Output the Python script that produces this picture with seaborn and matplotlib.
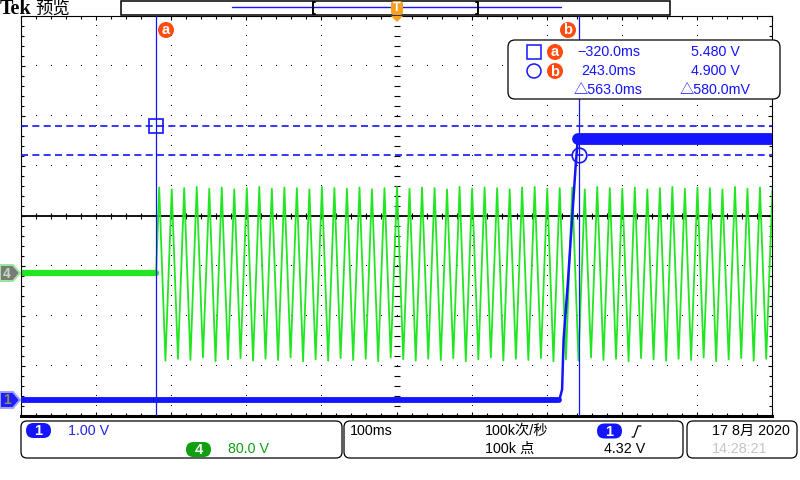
import matplotlib
matplotlib.use("Agg")
import numpy as np
import pandas as pd
import matplotlib.pyplot as plt
import seaborn as sns
from matplotlib.patches import FancyBboxPatch, Polygon, Rectangle, Circle
from matplotlib.lines import Line2D
from matplotlib.transforms import IdentityTransform

# ---------------- data ----------------
ch1_volts_per_div = 1.00
ch4_volts_per_div = 80.0
ch1_offset_div = -3.67
ch4_offset_div = -1.13

# channel 1 (blue): low, fast rise, high
ch1_t = [-500.0, 217.0, 220.5, 222.5, 228.0, 233.3, 238.7, 241.3, 500.0]
ch1_v = [0.0, 0.0, 0.2, 1.2, 2.3, 3.5, 4.7, 5.2, 5.2]
ch1_low_t = [-500.0, 217.0]
ch1_low_v = [0.0, 0.0]
ch1_high_t = [241.3, 500.0]
ch1_high_v = [5.22, 5.22]

# channel 4 (green): flat before cursor a, then 60 Hz mains wave
ch4_pre_t = [-500.0, -320.0]
ch4_pre_v = [0.0, 0.0]
ch4_start_t = [-320.0]
ch4_start_v = [0.0]
ch4_peak_t = [-316.0, -299.3, -282.7, -266.0, -249.3, -232.7, -216.0, -199.3, -182.7, -166.0,
              -149.3, -132.7, -116.0, -99.3, -82.7, -66.0, -49.3, -32.7, -16.0, 0.7,
              17.3, 34.0, 50.7, 67.3, 84.0, 100.7, 117.3, 134.0, 150.7, 167.3,
              184.0, 200.7, 217.3, 234.0, 250.7, 267.3, 284.0, 300.7, 317.3, 334.0,
              350.7, 367.3, 384.0, 400.7, 417.3, 434.0, 450.7, 467.3, 484.0, 500.7]
ch4_peak_v = [136, 133, 135, 137, 134, 136, 133, 135, 137, 134,
              136, 135, 133, 137, 135, 134, 136, 133, 135, 137,
              134, 136, 135, 133, 137, 134, 136, 135, 133, 136,
              137, 134, 135, 136, 133, 137, 135, 134, 136, 133,
              135, 137, 134, 136, 135, 133, 137, 134, 136, 135]
ch4_trough_t = [-307.7, -291.0, -274.4, -257.7, -241.0, -224.4, -207.7, -191.0, -174.4, -157.7,
                -141.0, -124.4, -107.7, -91.0, -74.4, -57.7, -41.0, -24.4, -7.7, 9.0,
                25.6, 42.3, 59.0, 75.6, 92.3, 109.0, 125.6, 142.3, 159.0, 175.6,
                192.3, 209.0, 225.6, 242.3, 259.0, 275.6, 292.3, 309.0, 325.6, 342.3,
                359.0, 375.6, 392.3, 409.0, 425.6, 442.3, 459.0, 475.6, 492.3]
ch4_trough_v = [-141, -138, -140, -136, -142, -139, -137, -141, -138, -140,
                -136, -142, -139, -141, -137, -140, -138, -142, -136, -139,
                -141, -138, -140, -137, -142, -139, -136, -141, -138, -140,
                -137, -142, -139, -141, -136, -140, -138, -142, -137, -139,
                -141, -138, -140, -136, -142, -139, -137, -141, -138]

cursor_t = [-320.0, 243.0]      # ms
cursor_v = [5.480, 4.900]       # V on ch1

readout_time = ["\u2212320.0ms", "243.0ms", "\u25b3563.0ms"]
readout_volt = ["5.480 V", "4.900 V", "\u25b3580.0mV"]

# ---------------- style ----------------
sns.set_theme(style="white")
plt.rcParams['font.family'] = ['Liberation Sans', 'Noto Sans CJK SC', 'DejaVu Sans']
CJK = ['Liberation Sans', 'Noto Sans CJK SC', 'DejaVu Sans']

BLUE = '#1414ff'
GREEN = '#22e622'
DGREEN = '#12a012'
ORANGE = '#ff4b10'
TORANGE = '#f5a020'

W, H = 800, 480
PX = IdentityTransform()
def P(x, y):
    return (x, H - y)

fig = plt.figure(figsize=(8, 4.8), dpi=100)
fig.patch.set_facecolor('white')
ax = fig.add_axes([21 / W, 64 / H, 751 / W, 400 / H])
ax.set_xlim(-500, 500)
ax.set_ylim(-4, 4)
ax.set_facecolor('white')

# frame
for s in ['left', 'top', 'right']:
    ax.spines[s].set_color('black')
    ax.spines[s].set_linewidth(0.8)
ax.spines['bottom'].set_color('black')
ax.spines['bottom'].set_linewidth(2.2)
ax.set_xticks(np.arange(-500, 501, 100))
ax.set_yticks(np.arange(-4, 4.01, 1))
ax.set_xticks(np.arange(-500, 501, 20), minor=True)
ax.set_yticks(np.arange(-4, 4.01, 0.2), minor=True)
ax.tick_params(which='both', direction='in', top=True, right=True, bottom=True, left=True,
               labelbottom=False, labelleft=False, color='black', width=0.8)
ax.tick_params(which='major', length=3)
ax.tick_params(which='minor', length=2)

# graticule dots
gx, gy = [], []
for xm in range(-400, 401, 100):
    if xm == 0:
        continue
    for yy in np.arange(-4, 4.01, 0.2):
        gx.append(xm); gy.append(yy)
for ym in [-3, -2, -1, 1, 2, 3]:
    for xx in np.arange(-500, 501, 20):
        gx.append(xx); gy.append(ym)
ax.plot(gx, gy, ',', color='black', zorder=1)
# centre cross
ax.axhline(0, color='black', lw=1.3, zorder=1)
cy = np.arange(-4, 4.01, 0.2)
ax.plot(np.zeros_like(cy), cy, '_', color='black', ms=4.5, mew=0.8, zorder=1)
cx = np.arange(-500, 501, 20)
ax.plot(cx, np.zeros_like(cx), '|', color='black', ms=4.5, mew=0.8, zorder=1)

# ---------------- traces ----------------
c4_t = list(ch4_start_t)
c4_v = list(ch4_start_v)
for i in range(len(ch4_peak_t)):
    c4_t.append(ch4_peak_t[i]); c4_v.append(ch4_peak_v[i])
    if i < len(ch4_trough_t):
        c4_t.append(ch4_trough_t[i]); c4_v.append(ch4_trough_v[i])
df4 = pd.DataFrame({'t': c4_t, 'y': np.array(c4_v) / ch4_volts_per_div + ch4_offset_div})
df4pre = pd.DataFrame({'t': ch4_pre_t, 'y': np.array(ch4_pre_v) / ch4_volts_per_div + ch4_offset_div})
sns.lineplot(data=df4pre, x='t', y='y', ax=ax, color=GREEN, lw=4.5, sort=False, estimator=None, zorder=2)
sns.lineplot(data=df4, x='t', y='y', ax=ax, color=GREEN, lw=1.3, sort=False, estimator=None, zorder=2)

df1 = pd.DataFrame({'t': ch1_t, 'y': np.array(ch1_v) / ch1_volts_per_div + ch1_offset_div})
df1lo = pd.DataFrame({'t': ch1_low_t, 'y': np.array(ch1_low_v) / ch1_volts_per_div + ch1_offset_div})
df1hi = pd.DataFrame({'t': ch1_high_t, 'y': np.array(ch1_high_v) / ch1_volts_per_div + ch1_offset_div})
sns.lineplot(data=df1, x='t', y='y', ax=ax, color=BLUE, lw=1.8, sort=False, estimator=None, zorder=3)
sns.lineplot(data=df1lo, x='t', y='y', ax=ax, color=BLUE, lw=4.2, sort=False, estimator=None, zorder=3)
sns.lineplot(data=df1hi, x='t', y='y', ax=ax, color=BLUE, lw=8.5, sort=False, estimator=None, zorder=3)
ax.set_xlabel('')
ax.set_ylabel('')

# cursors
for t in cursor_t:
    ax.axvline(t, color=BLUE, lw=0.9, zorder=4)
for v in cursor_v:
    ax.axhline(v / ch1_volts_per_div + ch1_offset_div, color=BLUE, lw=1.2,
               ls=(0, (4.2, 2.6)), zorder=4)
ax.plot([cursor_t[0]], [cursor_v[0] / ch1_volts_per_div + ch1_offset_div], 's', ms=10,
        mfc='none', mec=BLUE, mew=1.2, zorder=5)
ax.plot([cursor_t[1]], [cursor_v[1] / ch1_volts_per_div + ch1_offset_div], 'o', ms=10.5,
        mfc='none', mec=BLUE, mew=1.2, zorder=5)

# ---------------- decorations in pixel space ----------------
def add(p, z=10):
    p.set_transform(PX)
    p.set_zorder(z)
    fig.add_artist(p)

def txt(x, y, s, **kw):
    kw.setdefault('fontsize', 10)
    kw.setdefault('va', 'center')
    kw.setdefault('ha', 'left')
    kw.setdefault('family', CJK)
    fig.text(x, H - y, s, transform=PX, zorder=12, **kw)

def badge(x, y, letter):
    add(Circle(P(x, y), 8, fc=ORANGE, ec='none'), 11)
    txt(x, y + 0.5, letter, color='white', fontweight='bold', ha='center', fontsize=10.5)

# header
txt(0, 9, 'Tek', family=['Liberation Serif'], fontweight='bold', fontsize=14.5, color='black')
txt(35, 9, '预览', family=['Noto Sans CJK SC'], fontsize=12.5, color='black')
add(Rectangle(P(121, 15), 549, 14.5, fc='white', ec='black', lw=1.1), 10)
add(Line2D([232, 561], [H - 7, H - 7], color=BLUE, lw=1.0), 11)
add(Line2D([315, 313, 313, 315], [H - 2, H - 2, H - 14, H - 14], color='black', lw=1.4), 11)
add(Line2D([476, 478, 478, 476], [H - 2, H - 2, H - 14, H - 14], color='black', lw=1.4), 11)
# trigger marker
add(FancyBboxPatch(P(391, 15), 12, 14, boxstyle='round,pad=0,rounding_size=3',
                   fc=TORANGE, ec='none'), 12)
txt(397, 8, 'T', color='white', fontweight='bold', fontsize=9, ha='center')
add(Polygon([P(391, 16), P(403, 16), P(397, 22)], closed=True, fc=TORANGE, ec='none'), 12)

# cursor badges
badge(166, 30, 'a')
badge(568, 30, 'b')

# readout box
add(FancyBboxPatch(P(508, 99), 272, 59, boxstyle='round,pad=0,rounding_size=7',
                   fc='white', ec='black', lw=0.9), 10)
add(Rectangle(P(527, 59), 14, 14, fc='none', ec=BLUE, lw=1.1), 11)
add(Circle(P(534, 71), 7, fc='none', ec=BLUE, lw=1.1), 11)
badge(555, 52, 'a')
badge(555, 71, 'b')
rows = [52, 71, 90]
for yy, s in zip(rows, readout_time):
    txt(608.5, yy, s, color=BLUE, ha='center', fontsize=10.3)
for yy, s in zip(rows, readout_volt):
    txt(715, yy, s, color=BLUE, ha='center', fontsize=10.3)

# left channel markers
add(Polygon([P(0, 265), P(13, 265), P(20, 273), P(13, 281), P(0, 281)], closed=True,
            fc='#7a7a7a', ec='#9be89b', lw=1.4), 11)
txt(7, 273.5, '4', color='#c0dcc0', ha='center', fontsize=10, fontweight='bold')
add(Polygon([P(0, 392), P(13, 392), P(20, 400), P(13, 408), P(0, 408)], closed=True,
            fc='#1e1eff', ec='#a0a0ff', lw=1.4), 11)
txt(7, 400.5, '1', color='#8c8c5a', ha='center', fontsize=10, fontweight='bold')

# bottom panels
for x0, x1 in [(21, 342), (344, 683), (687, 797)]:
    add(FancyBboxPatch(P(x0, 458), x1 - x0, 37, boxstyle='round,pad=0,rounding_size=6',
                       fc='none', ec='black', lw=0.9), 10)

def pill(xc, yc, s, color):
    add(FancyBboxPatch(P(xc - 12.5, yc + 7.5), 25, 15, boxstyle='round,pad=0,rounding_size=7.5',
                       fc=color, ec='none'), 11)
    txt(xc, yc + 0.5, s, color='white', ha='center', fontweight='bold', fontsize=10.5)

pill(38.5, 430.5, '1', BLUE)
txt(68, 431, '1.00 V', color='#2424e8', fontsize=10.3)
pill(198.5, 449.5, '4', '#10a010')
txt(228, 449, '80.0 V', color=DGREEN, fontsize=10.3)

txt(350, 431, '100ms', color='black', fontsize=10.3)
txt(485, 431, '100k次/秒', color='black', fontsize=10.3)
txt(485, 449, '100k 点', color='black', fontsize=10.3)
pill(609.5, 431, '1', BLUE)
add(Line2D([632, 634, 638, 641], [H - 437, H - 437, H - 426, H - 426], color='black', lw=0.9), 11)
txt(604, 449, '4.32 V', color='black', fontsize=10.3)
txt(712, 431, '17 8月 2020', color='black', fontsize=10.3)
txt(712, 449, '14:28:21', color='#c4c4c4', fontsize=10.3)

fig.savefig('out.png', dpi=100, facecolor='white')
